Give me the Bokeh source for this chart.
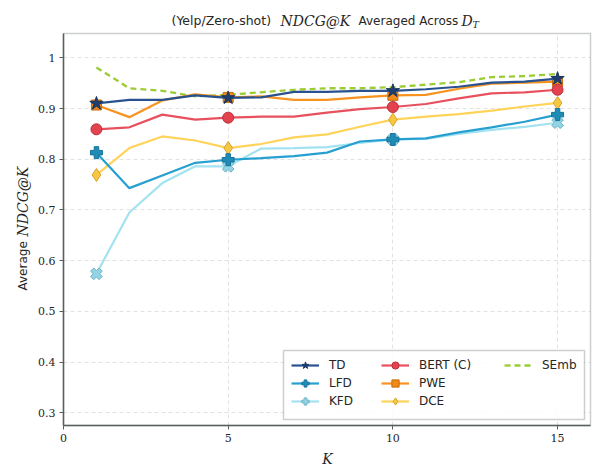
import math
from bokeh.plotting import figure
from bokeh.models import Range1d, Legend, LegendItem, Label, FixedTicker, BoxAnnotation
from bokeh.embed import file_html
from bokeh.resources import INLINE

# NDCG@K averaged across target domains (Yelp, zero-shot)
k_values = list(range(1, 16))
marker_k = [1, 5, 10, 15]

td = [0.910, 0.917, 0.917, 0.926, 0.921, 0.922, 0.933, 0.933, 0.935, 0.935, 0.938, 0.943, 0.951, 0.953, 0.959]
lfd = [0.813, 0.743, 0.768, 0.793, 0.799, 0.802, 0.806, 0.813, 0.835, 0.839, 0.841, 0.853, 0.863, 0.874, 0.888]
kfd = [0.574, 0.695, 0.753, 0.786, 0.786, 0.821, 0.822, 0.824, 0.832, 0.839, 0.840, 0.850, 0.858, 0.864, 0.872]
bert_c = [0.859, 0.863, 0.888, 0.878, 0.882, 0.884, 0.884, 0.892, 0.899, 0.903, 0.909, 0.920, 0.930, 0.932, 0.937]
pwe = [0.907, 0.883, 0.916, 0.928, 0.922, 0.924, 0.917, 0.917, 0.922, 0.926, 0.927, 0.939, 0.949, 0.951, 0.953]
dce = [0.769, 0.822, 0.845, 0.837, 0.822, 0.830, 0.843, 0.849, 0.864, 0.878, 0.884, 0.889, 0.896, 0.904, 0.911]
semb = [0.981, 0.940, 0.935, 0.924, 0.927, 0.932, 0.937, 0.940, 0.940, 0.942, 0.947, 0.952, 0.962, 0.964, 0.968]

x_ticks = [0, 5, 10, 15]
y_ticks = [0.3, 0.4, 0.5, 0.6, 0.7, 0.8, 0.9, 1.0]

# canvas and the axes box inside it (pixels)
W, H = 593, 466
BOX_L, BOX_R, BOX_T, BOX_B = 63, 590, 33, 425
X_LO, X_HI = 0.0, 16.0
Y_LO, Y_HI = 0.2748, 1.048
SX = (BOX_R - BOX_L) / (X_HI - X_LO)
SY = (BOX_B - BOX_T) / (Y_HI - Y_LO)

def dx(px):
    return X_LO + (px - BOX_L) / SX

def dy(py):
    return Y_HI - (py - BOX_T) / SY

FRAME = "#5a605c"
TEXT = "#262626"
SANS = "DejaVu Sans"
SERIF = "DejaVu Serif"

# the frame fills the canvas so that titles and axis names can sit around the axes box
p = figure(width=W, height=H, x_range=Range1d(dx(0), dx(W)), y_range=Range1d(dy(H), dy(0)),
           output_backend="svg", toolbar_location=None,
           min_border_left=0, min_border_right=0, min_border_top=0, min_border_bottom=0)
p.title.visible = False
p.outline_line_color = None
p.background_fill_color = "white"
p.border_fill_color = "white"

for ax in (p.xaxis, p.yaxis):
    ax.axis_line_color = FRAME
    ax.axis_line_width = 1.5
    ax.major_tick_line_color = FRAME
    ax.major_tick_line_width = 1
    ax.major_tick_in = 0
    ax.major_tick_out = 4
    ax.minor_tick_line_color = None
    ax.major_label_text_font = SERIF
    ax.major_label_text_font_size = "11px"
    ax.major_label_text_color = TEXT
    ax.major_label_standoff = 4
p.xaxis.ticker = FixedTicker(ticks=x_ticks)
p.yaxis.ticker = FixedTicker(ticks=y_ticks)
p.xaxis.fixed_location = Y_LO
p.xaxis.bounds = (X_LO, X_HI)
p.yaxis.fixed_location = X_LO
p.yaxis.bounds = (Y_LO, Y_HI)

for g in (p.xgrid, p.ygrid):
    g.grid_line_color = "#e2e2e2"
    g.grid_line_dash = "4 3"
    g.grid_line_width = 1
p.xgrid.bounds = (X_LO, X_HI)
p.xgrid.cross_bounds = (Y_LO, Y_HI)
p.ygrid.bounds = (Y_LO, Y_HI)
p.ygrid.cross_bounds = (X_LO, X_HI)

p.add_layout(BoxAnnotation(left=X_LO, right=X_HI, bottom=Y_LO, top=Y_HI,
                           fill_color=None, line_color=FRAME, line_width=1.5))

def pick(vals):
    return [vals[k_values.index(k)] for k in marker_k]

# series: name, values, line colour, marker, marker fill, marker outline, size, angle
series = [
    ("SEmb", semb, "#9acd32", None, None, None, 0, 0),
    ("DCE", dce, "#ffd35a", "diamond", "#f7c744", "#d6a42a", 13, 0),
    ("PWE", pwe, "#f7931e", "square", "#f28a17", "#c46a0e", 10, 0),
    ("BERT (C)", bert_c, "#e9505e", "circle", "#e3424f", "#b8303c", 11, 0),
    ("KFD", kfd, "#a3e2f0", "plus", "#93d4e4", "#6fb3c6", 12, math.pi / 4),
    ("LFD", lfd, "#27a0d1", "plus", "#1f8cb8", "#17739a", 12, 0),
    ("TD", td, "#28518f", "star", "#1f3f70", "#1a3560", 14, 0),
]

renderers = {}
for name, vals, color, marker, fill, outline, size, angle in series:
    if marker is None:
        ln = p.line(k_values, vals, line_color=color, line_width=2.3, line_dash="6 4")
        renderers[name] = [ln]
    else:
        ln = p.line(k_values, vals, line_color=color, line_width=2.2)
        sc = p.scatter(marker_k, pick(vals), marker=marker, size=size, angle=angle,
                       fill_color=fill, line_color=outline, line_width=1)
        renderers[name] = [ln, sc]

# legend: one box, three columns filled from the top row
ROW_TOP, ROW_H = 356, 18
p.add_layout(BoxAnnotation(left=dx(283), right=dx(584), top=dy(350), bottom=dy(419),
                           fill_color="white", fill_alpha=0.85, line_color=FRAME, line_width=1.5))
columns = [(291, ["TD", "LFD", "KFD"]), (381, ["BERT (C)", "PWE", "DCE"]), (504, ["SEmb"])]
for left_px, names in columns:
    bottom_px = ROW_TOP + ROW_H * len(names)
    lg = Legend(items=[LegendItem(label=n, renderers=renderers[n]) for n in names],
                location=(left_px, H - bottom_px), orientation="vertical")
    lg.label_text_font = SANS
    lg.label_text_font_size = "12px"
    lg.label_text_color = TEXT
    lg.glyph_width = 28
    lg.glyph_height = ROW_H
    lg.label_height = ROW_H
    lg.label_standoff = 10
    lg.padding = 0
    lg.spacing = 0
    lg.margin = 0
    lg.border_line_color = None
    lg.background_fill_alpha = 0
    p.add_layout(lg)

def lab(px, py, text, font, size, italic=False, angle=0.0, align="left"):
    p.add_layout(Label(x=dx(px), y=dy(py), text=text, text_font=font, text_font_size=size,
                       text_font_style="italic" if italic else "normal",
                       text_color=TEXT, text_baseline="middle", text_align=align,
                       angle=angle))

# title: plain words in sans, math in italic serif
lab(171, 20, "(Yelp/Zero-shot)", SANS, "12.5px")
lab(280, 20, "NDCG@K", SERIF, "14px", italic=True)
lab(358, 20, "Averaged Across", SANS, "12px")
lab(461, 20, "D", SERIF, "14px", italic=True)
lab(472, 24, "T", SERIF, "9.5px", italic=True)

# axis names
lab(327, 458, "K", SERIF, "14px", italic=True, align="center")
lab(22, 290, "Average", SANS, "12px", angle=math.pi / 2)
lab(22, 236, "NDCG@K", SERIF, "14px", italic=True, angle=math.pi / 2)

open("out.html", "w").write(file_html(p, INLINE))
